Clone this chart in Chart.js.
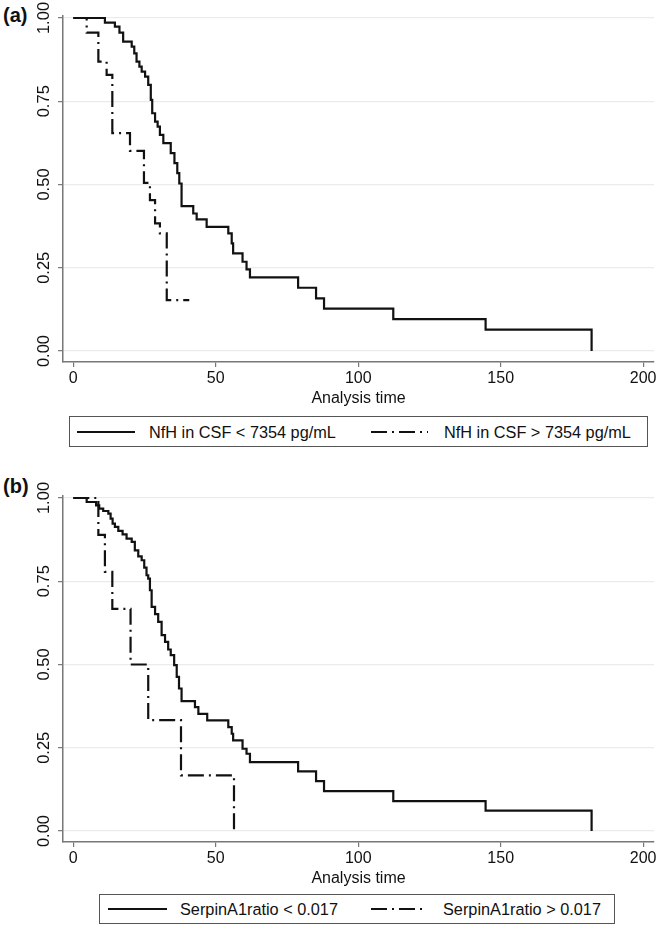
<!DOCTYPE html>
<html>
<head>
<meta charset="utf-8">
<script src="https://cdn.jsdelivr.net/npm/chart.js@4.4.1/dist/chart.umd.min.js"></script>
<style>
  html, body { margin: 0; padding: 0; background: #fff; }
  body { width: 661px; height: 929px; position: relative; overflow: hidden;
         font-family: "Liberation Sans", Arial, Helvetica, sans-serif; color: #111; }
  .wrap { position: absolute; left: 0; width: 661px; height: 410px; }
  .panel { position: absolute; font-weight: bold; font-size: 20px; }
  .legend { position: absolute; border: 1.3px solid #555; box-sizing: border-box; background: #fff; }
  .legend span { position: absolute; font-size: 16.3px; white-space: nowrap; line-height: 1; }
  .legend svg { position: absolute; }
</style>
</head>
<body>
<div class="panel" style="left:3px; top:4px;">(a)</div>
<div class="panel" style="left:3px; top:475px;">(b)</div>
<div class="wrap" style="top:0px;"><canvas id="cA" width="661" height="410"></canvas></div>
<div class="wrap" style="top:480px;"><canvas id="cB" width="661" height="410"></canvas></div>
<div class="legend" id="legA" style="left:69px; top:416px; width:579px; height:31px;"></div>
<div class="legend" id="legB" style="left:99px; top:894px; width:516px; height:30px;"></div>
<script>
// ---- Data ----
const xTickVals = [0, 50, 100, 150, 200];
const xTickLabels = ['0', '50', '100', '150', '200'];
const yTickVals = [0, 0.25, 0.5, 0.75, 1];
const yTickLabels = ['0.00', '0.25', '0.50', '0.75', '1.00'];
const xTitle = 'Analysis time';

// Panel (a): NfH in CSF
const aLegend = ['NfH in CSF < 7354 pg/mL', 'NfH in CSF > 7354 pg/mL'];
const aLowT = [0, 11.1, 14.6, 16.2, 17.5, 20.5, 21.4, 22.2, 23.2, 24.0, 25.2, 26.3, 27.2, 27.7, 28.7, 29.6, 30.4, 31.6, 34.2, 35.5, 36.5, 37.2, 38.0, 42.1, 43.3, 46.8, 54.4, 55.6, 56.1, 59.4, 60.8, 62.0, 78.9, 85.2, 88.0, 112.3, 144.7, 181.9];
const aLowS = [1, 0.986, 0.974, 0.956, 0.929, 0.914, 0.894, 0.869, 0.854, 0.839, 0.824, 0.799, 0.754, 0.714, 0.689, 0.674, 0.649, 0.624, 0.594, 0.564, 0.534, 0.503, 0.435, 0.413, 0.395, 0.373, 0.353, 0.323, 0.293, 0.268, 0.245, 0.221, 0.190, 0.158, 0.127, 0.096, 0.064, 0.0];
const aHighT = [0, 4.7, 8.8, 11.7, 13.7, 19.9, 24.8, 26.9, 28.7, 30.4, 32.8, 40.7];
const aHighS = [1, 0.956, 0.869, 0.829, 0.654, 0.601, 0.505, 0.453, 0.383, 0.353, 0.153, 0.153];

// Panel (b): SerpinA1 ratio
const bLegend = ['SerpinA1ratio < 0.017', 'SerpinA1ratio > 0.017'];
const bLowT = [0, 4.7, 8.0, 9.1, 10.5, 12.3, 13.1, 13.8, 14.6, 15.8, 17.3, 18.7, 20.5, 21.6, 22.8, 24.0, 24.9, 25.7, 26.3, 26.9, 27.5, 28.7, 29.8, 31.0, 32.2, 33.3, 34.2, 35.4, 36.3, 37.1, 38.0, 42.7, 43.9, 47.0, 54.4, 55.6, 56.1, 59.4, 60.8, 62.0, 78.9, 85.2, 88.0, 112.3, 144.7, 181.9];
const bLowS = [1, 0.988, 0.978, 0.968, 0.961, 0.953, 0.938, 0.923, 0.913, 0.901, 0.891, 0.878, 0.868, 0.843, 0.825, 0.813, 0.791, 0.768, 0.758, 0.723, 0.673, 0.651, 0.628, 0.588, 0.568, 0.545, 0.528, 0.498, 0.463, 0.428, 0.390, 0.372, 0.352, 0.332, 0.312, 0.292, 0.272, 0.247, 0.232, 0.207, 0.179, 0.150, 0.120, 0.090, 0.061, 0];
const bHighT = [0, 8.8, 11.1, 13.7, 20.1, 26.3, 37.8, 56.4];
const bHighS = [1, 0.889, 0.778, 0.667, 0.5, 0.333, 0.167, 0];

// ---- Styles ----
const FONT = '"Liberation Sans", Arial, Helvetica, sans-serif';
const INK = '#111';
const AXIS = '#777';
const DASHDOT = [16, 5, 2, 5];

function pts(ts, ss) { return ts.map((t, i) => ({ x: t, y: ss[i] })); }

function makeChart(id, lowT, lowS, highT, highS) {
  return new Chart(document.getElementById(id), {
    type: 'line',
    data: {
      datasets: [
        { data: pts(lowT, lowS), borderColor: INK, borderWidth: 2.2, stepped: true,
          pointRadius: 0, fill: false, tension: 0, borderJoinStyle: 'miter', clip: 6 },
        { data: pts(highT, highS), borderColor: INK, borderWidth: 2.2, stepped: true,
          borderDash: DASHDOT, pointRadius: 0, fill: false, tension: 0, borderJoinStyle: 'miter', clip: 6 }
      ]
    },
    options: {
      responsive: false,
      animation: false,
      devicePixelRatio: 1,
      layout: { padding: { top: 16, right: 7, left: 0, bottom: 0 } },
      plugins: { legend: { display: false }, tooltip: { enabled: false } },
      scales: {
        x: {
          type: 'linear', min: -3.61, max: 203.8,
          afterBuildTicks: s => { s.ticks = xTickVals.map(v => ({ value: v })); },
          afterFit: s => { s.height = 48; },
          ticks: { callback: (v, i) => xTickLabels[i], font: { size: 16, family: FONT }, color: INK,
                   padding: 2, maxRotation: 0, autoSkip: false },
          grid: { drawOnChartArea: false, drawTicks: true, tickLength: 5, color: AXIS, lineWidth: 1.2 },
          border: { display: true, color: AXIS, width: 1.5 },
          title: { display: true, text: xTitle, font: { size: 16, family: FONT }, color: INK,
                   padding: { top: 0, bottom: 2 } }
        },
        y: {
          type: 'linear', min: -0.033, max: 1.006,
          afterBuildTicks: s => { s.ticks = yTickVals.map(v => ({ value: v })); },
          afterFit: s => { s.width = 63; },
          ticks: { callback: (v, i) => yTickLabels[i], font: { size: 16.5, family: FONT }, color: INK,
                   minRotation: 90, maxRotation: 90, crossAlign: 'center', padding: -3, autoSkip: false },
          grid: { color: '#ebebeb', lineWidth: 1.3, drawTicks: true, tickLength: 5, tickColor: AXIS, tickWidth: 1.2 },
          border: { display: true, color: AXIS, width: 1.5 }
        }
      }
    }
  });
}

makeChart('cA', aLowT, aLowS, aHighT, aHighS);
makeChart('cB', bLowT, bLowS, bHighT, bHighS);

// ---- Legends (HTML boxes with line samples) ----
function sample(dashed, left, width, cy) {
  const ns = 'http://www.w3.org/2000/svg';
  const svg = document.createElementNS(ns, 'svg');
  svg.setAttribute('width', width); svg.setAttribute('height', 6);
  svg.style.left = left + 'px'; svg.style.top = (cy - 3) + 'px';
  const ln = document.createElementNS(ns, 'line');
  ln.setAttribute('x1', 0); ln.setAttribute('x2', width);
  ln.setAttribute('y1', 3); ln.setAttribute('y2', 3);
  ln.setAttribute('stroke', INK); ln.setAttribute('stroke-width', 2.2);
  if (dashed) ln.setAttribute('stroke-dasharray', DASHDOT.join(' '));
  svg.appendChild(ln);
  return svg;
}
function buildLegend(id, labels, layout) {
  const box = document.getElementById(id);
  const cy = layout.cy;
  labels.forEach((txt, i) => {
    const L = layout.items[i];
    box.appendChild(sample(i === 1, L.s0, L.s1 - L.s0, cy));
    const sp = document.createElement('span');
    sp.textContent = txt;
    sp.style.left = L.t + 'px';
    sp.style.top = (cy - 8) + 'px';
    box.appendChild(sp);
  });
}
// positions relative to each legend box
buildLegend('legA', aLegend, { cy: 14.5, items: [{ s0: 7, s1: 65, t: 79 }, { s0: 301, s1: 358, t: 374 }] });
buildLegend('legB', bLegend, { cy: 14, items: [{ s0: 8, s1: 67, t: 80 }, { s0: 271, s1: 326, t: 343 }] });
</script>
</body>
</html>
